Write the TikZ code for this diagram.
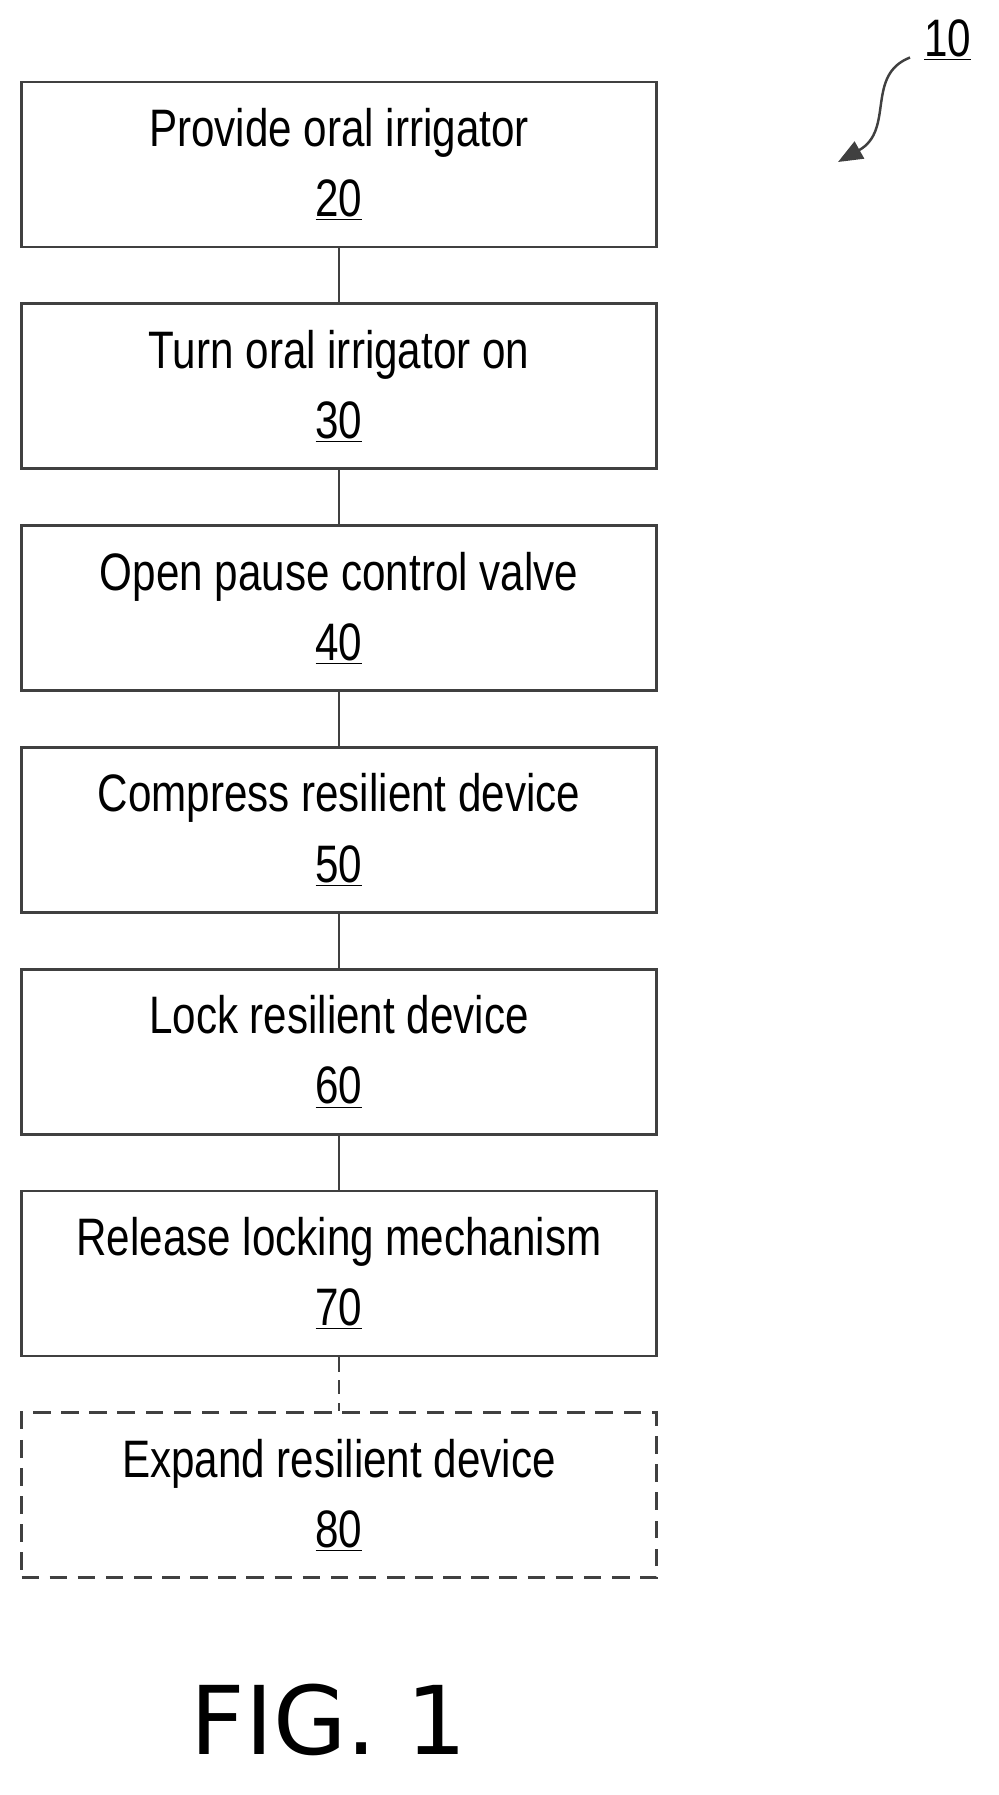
\documentclass[tikz,border=0pt]{standalone}
\usepackage{fontspec}
\setmainfont{Liberation Sans}[FakeStretch=0.8]
\newfontfamily\figfont{DejaVu Sans}
\usetikzlibrary{positioning,arrows.meta}

\begin{document}
\begin{tikzpicture}
            \tikzset{stepbox/.style={draw=black!75, line width=1.6pt, minimum width=12.7cm, minimum height=3.3cm, inner sep=0pt, align=center, font=\fontsize{30}{40}\selectfont},
            link/.style={draw=black!75, line width=1.4pt}}
            \useasboundingbox (0,0) rectangle (19.98,-35.9);

            \node[stepbox] (p20) at (6.78,-3.29) {Provide oral irrigator\\\underline{20}};
            \node[stepbox, below=1.08cm of p20] (p30) {Turn oral irrigator on\\\underline{30}};
            \node[stepbox, below=1.08cm of p30] (p40) {Open pause control valve\\\underline{40}};
            \node[stepbox, below=1.08cm of p40] (p50) {Compress resilient device\\\underline{50}};
            \node[stepbox, below=1.08cm of p50] (p60) {Lock resilient device\\\underline{60}};
            \node[stepbox, below=1.08cm of p60] (p70) {Release locking mechanism\\\underline{70}};
            \node[stepbox, dashed, dash pattern=on 10pt off 6pt, below=1.08cm of p70] (p80) {Expand resilient device\\\underline{80}};

            \draw[link] (p20) -- (p30);
            \draw[link] (p30) -- (p40);
            \draw[link] (p40) -- (p50);
            \draw[link] (p50) -- (p60);
            \draw[link] (p60) -- (p70);
            \draw[link, dash pattern=on 8pt off 5pt] (p70) -- (p80);

            % reference numeral
            \node[font=\fontsize{30}{30}\selectfont] (ref10) at (18.95,-0.8) {\underline{10}};
            \coordinate (tip) at (16.76,-3.24);
            \draw[draw=black!75, line width=1.4pt, -{Triangle[length=14pt,width=11pt]}] (18.2,-1.15) .. controls (17.3,-1.5) and (17.9,-2.6) .. (tip);

            \node[font=\figfont\fontsize{54}{60}\selectfont] (fig) at (6.58,-34.4) {FIG. 1};
        \end{tikzpicture}
\end{document}
